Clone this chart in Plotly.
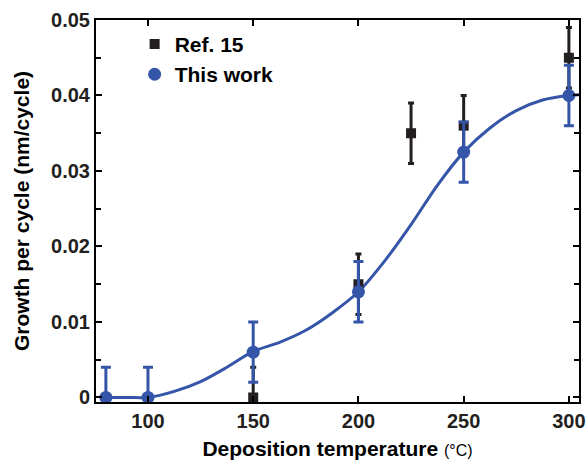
import plotly.graph_objects as go

# Ref. 15 data
ref_x = [150, 200, 225, 250, 300]
ref_y = [0.0, 0.015, 0.035, 0.036, 0.045]
ref_err = [0.004, 0.004, 0.004, 0.004, 0.004]

# This work data
tw_x = [80, 100, 150, 200, 250, 300]
tw_y = [0.0, 0.0, 0.006, 0.014, 0.0325, 0.040]
tw_err = [0.004, 0.004, 0.004, 0.004, 0.004, 0.004]

# Fitted curve
fit_x = [80, 90, 100, 112.5, 125, 137.5, 150, 162.5, 175, 187.5, 200, 212.5, 225,
         237.5, 250, 262.5, 275, 287.5, 300, 305]
fit_y = [0.0, 0.0, 0.0, 0.0008, 0.0021, 0.0040, 0.0061, 0.0073, 0.0089, 0.0112, 0.0140,
         0.0181, 0.0229, 0.0281, 0.0325, 0.0357, 0.0380, 0.0394, 0.0400, 0.0401]

blue = "#3455a8"
black = "#231f20"
font = "Liberation Sans, Arial, sans-serif"

fig = go.Figure()
fig.add_trace(go.Scatter(
    x=fit_x, y=fit_y, mode="lines", line=dict(color=blue, width=3, shape="spline", smoothing=0.8),
    showlegend=False, hoverinfo="skip"))
fig.add_trace(go.Scatter(
    x=ref_x, y=ref_y, mode="markers", name="<b>Ref. 15</b>",
    marker=dict(symbol="square", size=10, color=black),
    error_y=dict(type="data", array=ref_err, color=black, thickness=3, width=3)))
fig.add_trace(go.Scatter(
    x=tw_x, y=tw_y, mode="markers", name="<b>This work</b>",
    marker=dict(symbol="circle", size=13, color=blue),
    error_y=dict(type="data", array=tw_err, color=blue, thickness=3, width=5)))

axis_common = dict(showline=True, linecolor="black", linewidth=2, mirror="ticks",
                   ticks="inside", tickcolor="black", tickwidth=1.5, ticklen=6,
                   showgrid=False, zeroline=False, automargin=False,
                   tickfont=dict(family=font, size=20, color="#231f20", weight="bold"))

fig.update_xaxes(range=[75.3, 304.8], tickvals=[100, 150, 200, 250, 300],
                 title=dict(text="<b>Deposition temperature</b> <span style='font-size:16px'>(°C)</span>",
                            font=dict(family=font, size=21, color="black"), standoff=10),
                 **axis_common)
fig.update_yaxes(range=[-0.0006, 0.05], tickvals=[0, 0.01, 0.02, 0.03, 0.04, 0.05],
                 ticktext=["0", "0.01", "0.02", "0.03", "0.04", "0.05"],
                 minor=dict(dtick=0.005, tick0=0, ticks="inside", ticklen=5, tickcolor="black", tickwidth=1.5),
                 title=dict(text="<b>Growth per cycle (nm/cycle)</b>",
                            font=dict(family=font, size=21, color="black"), standoff=16),
                 **axis_common)

fig.update_layout(
    width=588, height=460,
    margin=dict(l=96, r=9, t=20, b=58),
    plot_bgcolor="white", paper_bgcolor="white",
    legend=dict(x=0.08, y=0.99, xanchor="left", yanchor="top",
                font=dict(family=font, size=21, color="black"),
                bgcolor="rgba(0,0,0,0)", tracegroupgap=0, itemwidth=30),
)

fig.write_html("out.html")
